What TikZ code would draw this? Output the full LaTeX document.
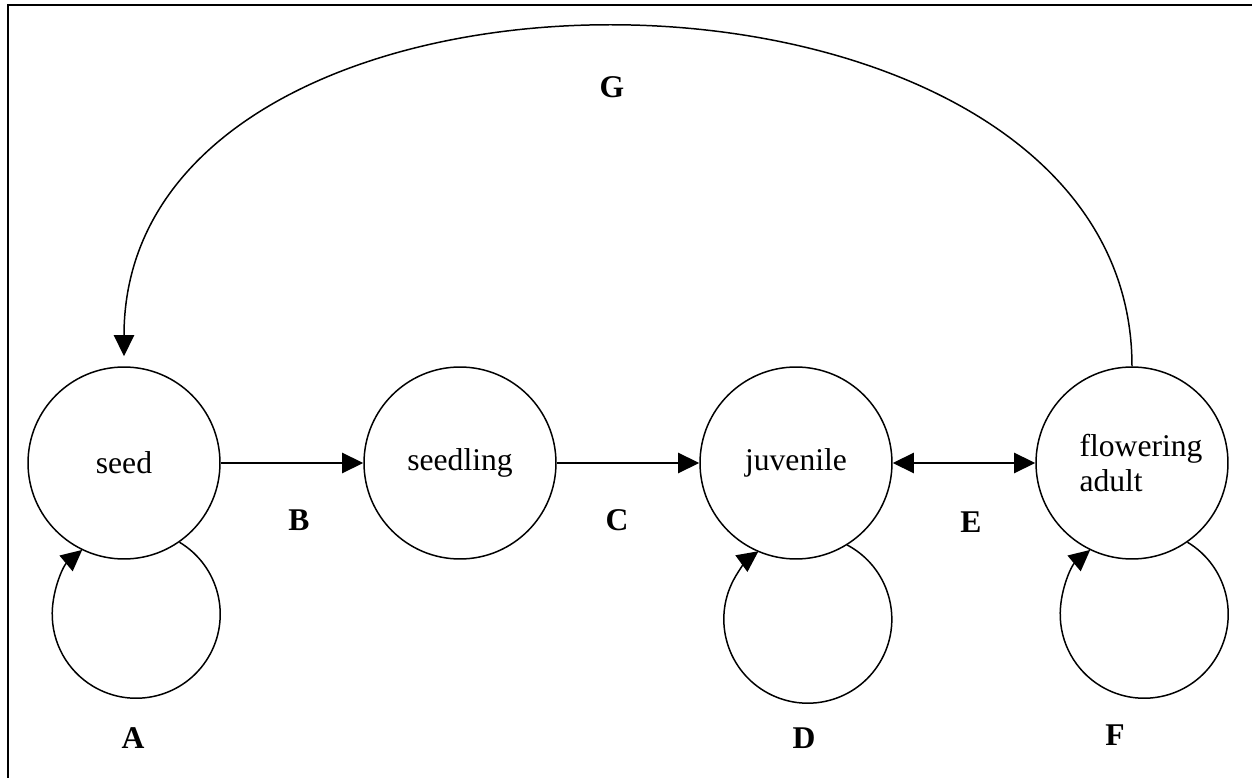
\documentclass[tikz,border=0pt]{standalone}
\usepackage{fontspec}
\setmainfont{Liberation Serif}
\usetikzlibrary{arrows.meta}

\begin{document}
\begin{tikzpicture}[x=0.02cm, y=0.02cm, line width=0.85pt,
  >={Triangle[length=12pt,width=11.5pt]},
  font=\fontsize{18}{20}\selectfont,
  stage/.style={circle, draw, minimum size=3.84cm, inner sep=0pt},
  tag/.style={font=\fontsize{18}{20}\selectfont\bfseries}]
  \useasboundingbox (0,0) rectangle (1252,778);
  %% Frame (only left and top edges are in view)
  \draw[line width=1.3pt] (8,0) -- (8,773) -- (1252,773);

  %% Life stages
  \node[stage] (seed)     at (124,315)  {seed};
  \node[stage] (seedling) at (460,315)  {seedling};
  \node[stage] (juvenile) at (796,315)  {juvenile};
  \node[stage] (adult)    at (1132,315) {};
  \node[align=left] (adulttext) at (1141,315) {flowering\\adult};

  %% Transitions
  \draw[->] (seed) -- (seedling);
  \draw[->] (seedling) -- (juvenile);
  \draw[<->] (juvenile) -- (adult);

  %% Stasis loops
  \draw[->] (seed.-55) arc[start angle=59, end angle=-230, radius=84];
  \draw[->] (juvenile.-58) arc[start angle=62, end angle=-234, radius=84];
  \draw[->] (adult.-55) arc[start angle=59, end angle=-230, radius=84];

  %% Reproduction back to seed
  \draw[->, shorten >=0.2cm] (adult.north)
    .. controls +(0,445) and +(0,455) .. (seed.north);

  %% Transition labels
  \node[tag] (lblA) at (133,40)  {A};
  \node[tag] (lblB) at (299,258) {B};
  \node[tag] (lblC) at (617,258) {C};
  \node[tag] (lblD) at (804,40)  {D};
  \node[tag] (lblE) at (971,256) {E};
  \node[tag] (lblF) at (1115,43) {F};
  \node[tag] (lblG) at (612,691) {G};
\end{tikzpicture}
\end{document}
